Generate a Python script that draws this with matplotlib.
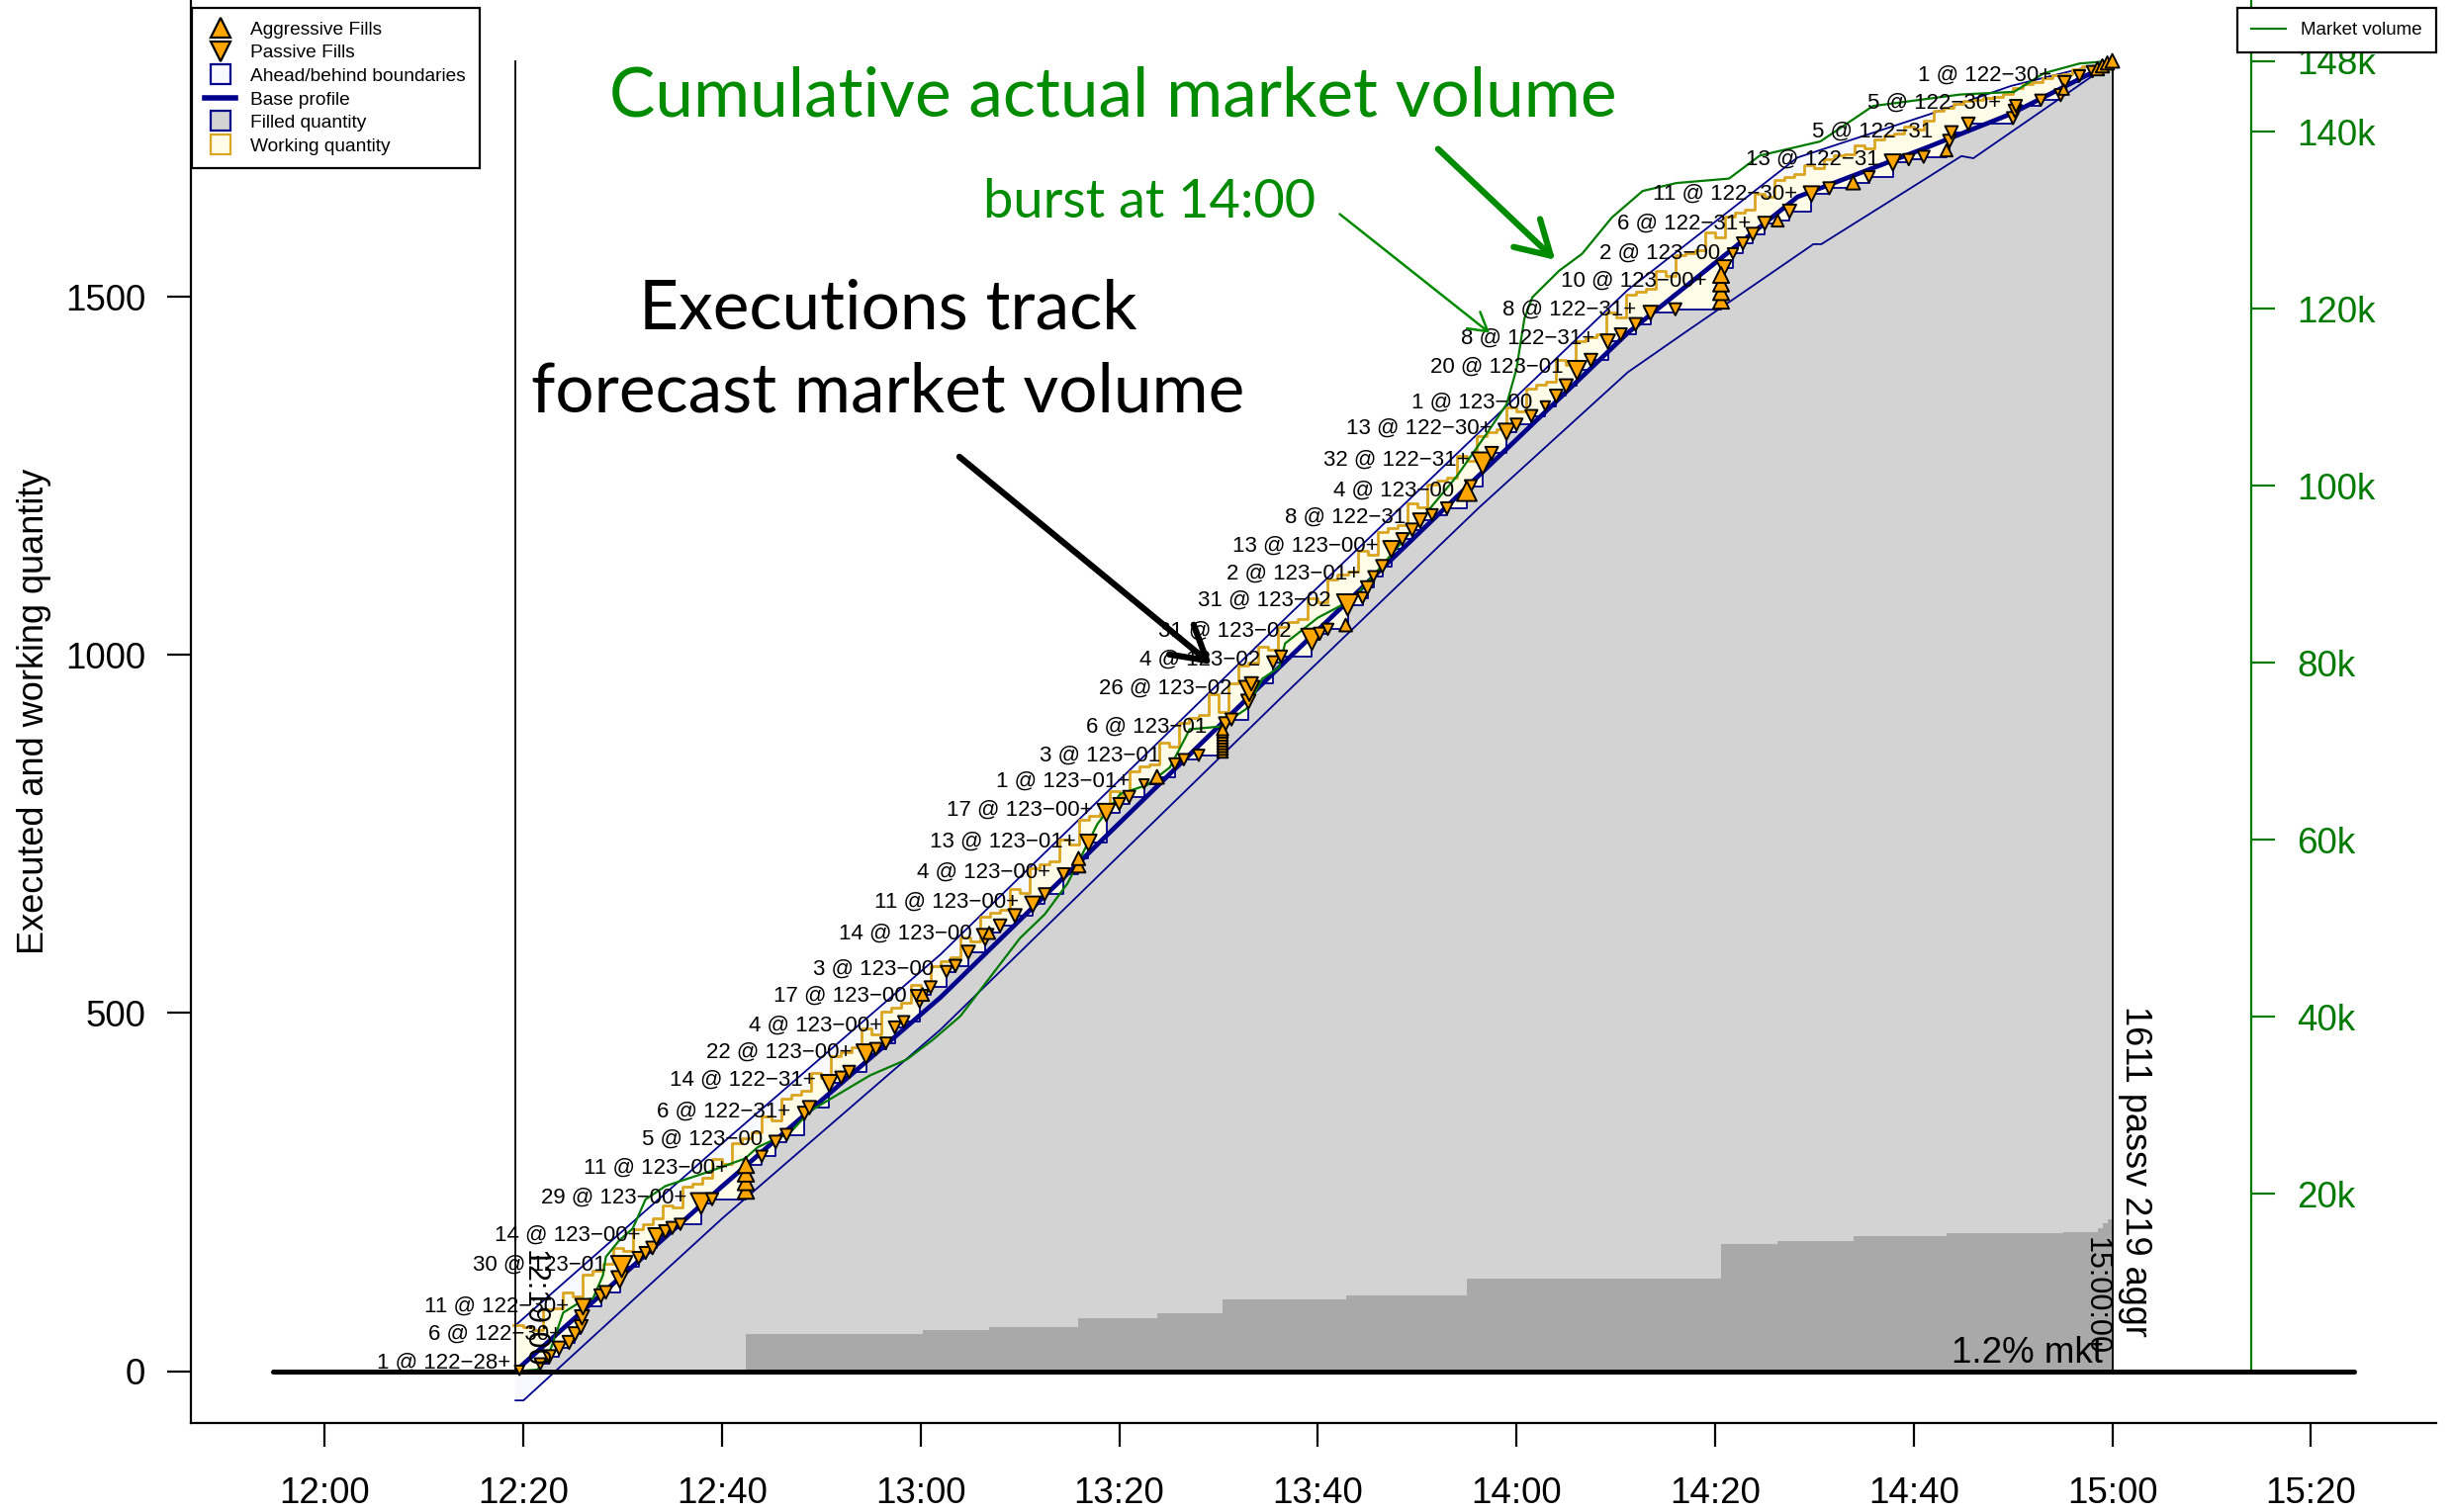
import numpy as np
import matplotlib
matplotlib.use("Agg")
import matplotlib.pyplot as plt
from matplotlib.lines import Line2D

plt.rcParams['font.family'] = ['Liberation Sans', 'DejaVu Sans']

# all times are minutes after 12:00
XTICKS = [0, 20, 40, 60, 80, 100, 120, 140, 160, 180, 200]
XTICK_LABELS = ["12:00", "12:20", "12:40", "13:00", "13:20", "13:40",
                "14:00", "14:20", "14:40", "15:00", "15:20"]
YTICKS = [0, 500, 1000, 1500]

START_T = 19.2
END_T = 180.0
EXEC_TOTAL = 1830
MKT_TOTAL = 148000

# base profile (forecast volume curve)
BASE_T = [19.6, 40, 62, 97, 116.3, 131.2, 148.3, 161.5, 169.8, 180]
BASE_V = [5, 258, 522, 995, 1252, 1450, 1640, 1710, 1756, 1828]

# ahead / behind boundaries
UPPER_T = [19.2, 40, 62, 97, 116.3, 131.2, 148.3, 161.5, 169.8, 180]
UPPER_V = [64, 318, 582, 1055, 1312, 1510, 1695, 1755, 1795, 1830]
LOWER_T = [19.2, 20.0, 40, 62, 97, 116.3, 131.2, 136.9, 149.9, 150.7,
           161.5, 164.8, 166.0, 180]
LOWER_V = [-41, -41, 213, 477, 950, 1207, 1395, 1450, 1574, 1574,
           1668, 1697, 1694, 1828]

# filled + working quantity, one value per minute from 12:19 to 15:00
WORK_T = list(range(19, 181))
WORK_TOP = [
    64, 62, 58, 86, 88, 110, 104, 135, 140, 150,
    172, 168, 198, 205, 214, 232, 228, 258, 262, 270,
    296, 290, 318, 325, 334, 356, 350, 380, 386, 392,
    416, 410, 440, 446, 452, 478, 470, 502, 508, 514,
    540, 532, 566, 572, 578, 606, 600, 634, 640, 644,
    674, 668, 702, 708, 712, 742, 736, 770, 776, 780,
    810, 804, 838, 844, 848, 878, 872, 906, 912, 916,
    946, 920, 960, 986, 990, 1012, 1008, 1040, 1046, 1050,
    1080, 1074, 1106, 1112, 1116, 1146, 1140, 1172, 1178, 1182,
    1212, 1206, 1238, 1244, 1248, 1278, 1272, 1306, 1312, 1316,
    1346, 1340, 1372, 1378, 1382, 1412, 1406, 1438, 1444, 1448,
    1478, 1472, 1504, 1508, 1512, 1536, 1530, 1558, 1562, 1566,
    1590, 1584, 1612, 1618, 1622, 1644, 1640, 1664, 1668, 1672,
    1684, 1680, 1692, 1698, 1700, 1712, 1708, 1720, 1726, 1728,
    1738, 1734, 1746, 1760, 1764, 1770, 1774, 1776, 1778, 1780,
    1784, 1792, 1798, 1800, 1806, 1810, 1812, 1818, 1822, 1824,
    1828, 1830,
]

# fills: time, cumulative filled after the fill, fill size, aggressive flag
FILL_T = [
    19.6, 21.7, 22.6, 23.6, 24.6, 25.2, 25.8, 25.9, 26.0, 27.8,
    28.3, 29.7, 29.9, 31.6, 32.3, 33.0, 33.4, 34.3, 35.0, 35.8,
    37.9, 39.0, 42.4, 42.4, 42.4, 42.4, 44.0, 45.4, 46.5, 48.3,
    48.8, 50.8, 52.0, 52.8, 54.5, 55.5, 56.5, 57.4, 58.3, 59.9,
    60.2, 61.0, 62.6, 63.5, 64.8, 66.5, 66.9, 68.0, 69.5, 71.3,
    72.5, 74.4, 75.9, 75.9, 76.9, 78.7, 80.0, 81.0, 82.5, 83.8,
    85.6, 86.5, 88.0, 90.4, 90.4, 90.4, 90.4, 90.4, 90.4, 90.4,
    90.4, 90.4, 90.7, 91.3, 93.0, 93.1, 93.3, 95.5, 96.3, 99.4,
    100.2, 101.0, 102.8, 103.0, 104.5, 105.0, 105.6, 106.5, 107.4, 108.5,
    109.5, 110.3, 111.5, 113.0, 115.0, 115.4, 116.6, 117.5, 119.0, 120.0,
    121.5, 122.9, 124.0, 125.0, 126.1, 127.5, 129.2, 130.5, 132.0, 133.5,
    136.0, 140.6, 140.6, 140.6, 140.6, 140.9, 141.8, 142.8, 143.8, 145.0,
    146.3, 147.5, 149.7, 151.5, 153.9, 155.5, 157.9, 159.5, 161.0, 163.3,
    163.6, 163.8, 165.5, 170.0, 170.2, 170.3, 172.8, 174.8, 175.1, 175.2,
    176.7, 178.0, 178.5, 179.0, 179.5, 180.0,
]
FILL_CUM = [
    1, 10, 20, 32, 40, 52, 62, 75, 90, 105,
    110, 128, 146, 158, 165, 172, 188, 195, 200, 205,
    234, 240, 252, 264, 276, 288, 300, 320, 330, 360,
    368, 402, 410, 418, 443, 450, 458, 480, 488, 520,
    526, 536, 558, 566, 585, 606, 612, 622, 636, 652,
    666, 694, 706, 716, 738, 780, 792, 802, 820, 830,
    848, 854, 860, 864, 868, 872, 876, 880, 884, 888,
    892, 896, 904, 910, 935, 950, 960, 990, 998, 1022,
    1030, 1036, 1042, 1070, 1080, 1094, 1110, 1124, 1148, 1162,
    1175, 1188, 1196, 1205, 1229, 1236, 1268, 1282, 1312, 1322,
    1334, 1348, 1362, 1376, 1398, 1412, 1438, 1448, 1462, 1478,
    1483, 1495, 1507, 1519, 1531, 1541, 1561, 1575, 1588, 1603,
    1607, 1620, 1644, 1652, 1660, 1668, 1688, 1692, 1696, 1705,
    1718, 1730, 1742, 1750, 1760, 1767, 1775, 1782, 1790, 1800,
    1809, 1815, 1819, 1823, 1827, 1830,
]
FILL_QTY = [
    1, 3, 6, 6, 6, 6, 6, 8, 11, 6,
    5, 14, 30, 4, 4, 5, 14, 5, 4, 3,
    29, 4, 13, 13, 13, 13, 3, 5, 4, 6,
    6, 14, 4, 4, 22, 4, 3, 4, 3, 17,
    5, 4, 3, 4, 6, 14, 4, 5, 6, 11,
    4, 4, 7, 6, 13, 17, 4, 4, 1, 7,
    3, 3, 3, 2, 2, 2, 2, 2, 2, 2,
    2, 3, 6, 4, 8, 26, 6, 4, 4, 31,
    4, 3, 5, 31, 3, 6, 2, 5, 13, 4,
    5, 8, 3, 4, 24, 4, 32, 5, 13, 4,
    4, 1, 5, 6, 20, 5, 8, 4, 5, 8,
    4, 12, 12, 12, 12, 10, 2, 4, 5, 6,
    4, 6, 11, 4, 7, 3, 13, 3, 4, 4,
    5, 5, 5, 4, 5, 4, 3, 4, 2, 5,
    3, 3, 6, 6, 6, 7,
]
FILL_AGGR = [
    0, 0, 0, 0, 0, 0, 0, 0, 0, 0,
    0, 0, 0, 0, 0, 0, 0, 0, 0, 0,
    0, 0, 1, 1, 1, 1, 0, 0, 0, 0,
    0, 0, 0, 0, 0, 0, 0, 0, 0, 0,
    1, 0, 0, 0, 0, 0, 1, 0, 0, 0,
    0, 0, 1, 1, 0, 0, 0, 0, 0, 1,
    0, 0, 0, 1, 1, 1, 1, 1, 1, 1,
    1, 1, 0, 0, 0, 0, 0, 0, 0, 0,
    0, 0, 1, 0, 0, 0, 0, 0, 0, 0,
    0, 0, 0, 0, 1, 0, 0, 0, 0, 0,
    0, 0, 0, 0, 0, 0, 0, 0, 0, 0,
    0, 1, 1, 1, 1, 0, 0, 0, 0, 0,
    1, 0, 0, 0, 1, 0, 0, 0, 0, 1,
    0, 0, 0, 0, 0, 0, 0, 0, 1, 0,
    0, 0, 1, 1, 1, 1,
]

# cumulative actual market volume, thousands of contracts
MKT_T = [19.4, 21.4, 22.4, 23.0, 24.0, 26.0, 27.0, 28.0, 28.3, 29.6,
         31.0, 32.3, 34.3, 38.6, 42.3, 43.6, 46.9, 48.9, 51.6, 54.9,
         58.6, 61.2, 64.0, 67.0, 70.0, 72.5, 74.8, 77.8, 80.1, 82.8,
         85.1, 87.1, 90.1, 92.8, 94.4, 96.1, 96.7, 100.0, 103.4, 106.0,
         110.0, 114.0, 117.0, 119.0, 120.0, 120.8, 121.6, 124.3, 126.6, 129.6,
         132.7, 136.1, 141.4, 144.5, 150.6, 155.9, 164.7, 170.1, 173.1, 176.7,
         180.0]
MKT_K = [0, 0.16, 1.46, 3.3, 6.6, 8.0, 8.2, 10.8, 12.9, 14.7,
         16.1, 19.4, 20.9, 22.5, 24.0, 25.3, 27.0, 29.4, 31.2, 33.4,
         35.2, 37.4, 40.1, 44.5, 48.9, 51.6, 55.1, 61.8, 65.2, 66.2,
         68.2, 72.5, 72.8, 74.8, 78.2, 79.5, 82.2, 85.1, 87.1, 90.4,
         95.7, 101.1, 105.9, 109.2, 113.2, 118.9, 121.3, 124.3, 126.2, 130.3,
         133.3, 134.2, 134.7, 137.3, 138.9, 142.9, 144.2, 144.5, 146.6, 147.7,
         148.0]

GREEN_TICKS = [20000, 40000, 60000, 80000, 100000, 120000, 140000, 148000]
GREEN_TICK_LABELS = ["20k", "40k", "60k", "80k", "100k", "120k", "140k", "148k"]

# fill labels (right edge of text)
LABEL_T = [18.7, 23.9, 24.6, 28.3, 31.8, 36.5, 40.6, 44.1, 46.9, 49.4,
           53.1, 56.1, 58.6, 61.3, 65.2, 69.9, 73.1, 75.6, 77.3, 81.1,
           84.1, 88.8, 91.3, 94.2, 97.3, 101.3, 104.3, 106.1, 108.9, 113.7,
           115.3, 117.6, 121.6, 124.7, 127.9, 132.1, 139.2, 140.5, 143.6, 148.3,
           156.5, 161.9, 168.8, 173.9]
LABEL_V = [11, 52, 90, 148, 190, 242, 284, 323, 362, 406,
           445, 483, 524, 561, 611, 655, 697, 740, 784, 823,
           860, 900, 954, 993, 1033, 1076, 1114, 1153, 1192, 1229,
           1273, 1317, 1352, 1402, 1443, 1483, 1522, 1561, 1603, 1644,
           1692, 1731, 1771, 1810]
LABEL_TXT = [
    "1 @ 122\u221228+", "6 @ 122\u221230+", "11 @ 122\u221230+", "30 @ 123\u221201",
    "14 @ 123\u221200+", "29 @ 123\u221200+", "11 @ 123\u221200+", "5 @ 123\u221200",
    "6 @ 122\u221231+", "14 @ 122\u221231+", "22 @ 123\u221200+", "4 @ 123\u221200+",
    "17 @ 123\u221200", "3 @ 123\u221200", "14 @ 123\u221200", "11 @ 123\u221200+",
    "4 @ 123\u221200+", "13 @ 123\u221201+", "17 @ 123\u221200+", "1 @ 123\u221201+",
    "3 @ 123\u221201", "6 @ 123\u221201", "26 @ 123\u221202", "4 @ 123\u221202",
    "31 @ 123\u221202", "31 @ 123\u221202", "2 @ 123\u221201+", "13 @ 123\u221200+",
    "8 @ 122\u221231", "4 @ 123\u221200", "32 @ 122\u221231+", "13 @ 122\u221230+",
    "1 @ 123\u221200", "20 @ 123\u221201", "8 @ 122\u221231+", "8 @ 122\u221231+",
    "10 @ 123\u221200+", "2 @ 123\u221200", "6 @ 122\u221231+", "11 @ 122\u221230+",
    "13 @ 122\u221231", "5 @ 122\u221231", "5 @ 122\u221230+", "1 @ 122\u221230+",
]

NAVY = "#00008B"
ORANGE = "#FFA500"
GOLD = "#DAA520"
LIGHT_GRAY = "#D3D3D3"
DARK_GRAY = "#A9A9A9"
CREAM = "#FFFDE8"
GHOST = "#F8F8FF"
GREEN = "#007A00"
GREEN_TEXT = "#008B00"
TITLE_FONT = ["Lato", "DejaVu Sans"]


def main():
    fig = plt.figure(figsize=(24.79, 15.29), dpi=100)
    ax = fig.add_axes([0.0778, 0.0591, 0.9157, 0.9409])
    xmin, xmax = -13.5, 212.6
    ax.set_xlim(xmin, xmax)
    ax.set_ylim(-72, 1915)
    for side in ("top", "right"):
        ax.spines[side].set_visible(False)
    for side in ("left", "bottom"):
        ax.spines[side].set_linewidth(1.6)

    ax.set_xticks(XTICKS)
    ax.set_xticklabels(XTICK_LABELS)
    ax.set_yticks(YTICKS)
    ax.tick_params(axis="both", labelsize=26.5, length=17, width=1.6)
    ax.tick_params(axis="x", pad=22)
    ax.tick_params(axis="y", pad=16)
    ax.set_ylabel("Executed and working quantity", fontsize=26, labelpad=10)

    # ahead/behind band
    band_t = UPPER_T + LOWER_T[::-1]
    band_v = UPPER_V + LOWER_V[::-1]
    ax.fill(band_t, band_v, facecolor=GHOST, edgecolor="none", zorder=1)

    # working quantity
    ax.fill_between(WORK_T, 0, WORK_TOP, step="post", facecolor=CREAM,
                    edgecolor="none", zorder=2)

    # filled quantity
    step_t = [START_T] + FILL_T + [END_T]
    step_v = [0] + FILL_CUM + [FILL_CUM[-1]]
    ax.fill_between(step_t, 0, step_v, step="post", facecolor=LIGHT_GRAY,
                    edgecolor="none", zorder=3)

    aggr_t = [t for t, a in zip(FILL_T, FILL_AGGR) if a]
    aggr_q = [q for q, a in zip(FILL_QTY, FILL_AGGR) if a]
    aggr_cum = list(np.cumsum(aggr_q))
    ax.fill_between(aggr_t + [END_T], 0, aggr_cum + [aggr_cum[-1]], step="post",
                    facecolor=DARK_GRAY, edgecolor="none", zorder=4)

    ax.plot(UPPER_T, UPPER_V, color=NAVY, lw=1.3, zorder=5)
    ax.plot(LOWER_T, LOWER_V, color=NAVY, lw=1.3, zorder=5)
    ax.step(WORK_T, WORK_TOP, where="post", color=GOLD, lw=2.0, zorder=5)
    ax.step(step_t, step_v, where="post", color=NAVY, lw=1.3, zorder=6)
    ax.plot(BASE_T, BASE_V, color=NAVY, lw=3.4, zorder=6)

    # market volume scaled onto the execution axis
    scale = EXEC_TOTAL / MKT_TOTAL
    ax.plot(MKT_T, np.array(MKT_K) * 1000 * scale, color=GREEN, lw=1.6, zorder=7)

    ax.plot([START_T, START_T], [0, EXEC_TOTAL], color="black", lw=1.3, zorder=7)
    ax.plot([END_T, END_T], [0, EXEC_TOTAL], color="black", lw=1.3, zorder=7)
    ax.plot([-5.2, 204.3], [0, 0], color="black", lw=3.6,
            solid_capstyle="round", zorder=7)

    # fills
    qty = np.array(FILL_QTY, dtype=float)
    sizes = (5.0 + 1.9 * np.sqrt(qty)) ** 2
    aggr = np.array(FILL_AGGR, dtype=bool)
    ft = np.array(FILL_T)
    fc = np.array(FILL_CUM)
    ax.scatter(ft[~aggr], fc[~aggr], s=sizes[~aggr], marker="v", c=ORANGE,
               edgecolors="black", linewidths=1.4, zorder=8)
    ax.scatter(ft[aggr], fc[aggr], s=sizes[aggr], marker="^", c=ORANGE,
               edgecolors="black", linewidths=1.4, zorder=8)

    for t, v, s in zip(LABEL_T, LABEL_V, LABEL_TXT):
        ax.text(t, v, s, ha="right", va="center", fontsize=16, zorder=9)

    # vertical annotations
    ax.text(START_T + 0.3, 5, "12:19:00", rotation=270, rotation_mode="anchor",
            ha="right", va="bottom", fontsize=22, zorder=9)
    ax.text(END_T - 0.2, 22, "15:00:00", rotation=270, rotation_mode="anchor",
            ha="right", va="top", fontsize=22, zorder=9)
    ax.text(END_T + 0.5, 48, "1611 passv 219 aggr", rotation=270,
            rotation_mode="anchor", ha="right", va="bottom", fontsize=26, zorder=9)
    ax.text(179.0, 12, "1.2% mkt", ha="right", va="baseline", fontsize=26.5,
            zorder=9)

    # story annotations
    ax.text(79.4, 1780, "Cumulative actual market volume", ha="center",
            va="center", fontsize=50, color=GREEN_TEXT, family=TITLE_FONT, zorder=10)
    ax.text(83.0, 1632, "burst at 14:00", ha="center", va="center",
            fontsize=39, color=GREEN_TEXT, family=TITLE_FONT, zorder=10)
    ax.text(56.7, 1483, "Executions track", ha="center", va="center",
            fontsize=50, family=TITLE_FONT, zorder=10)
    ax.text(56.7, 1366, "forecast market volume", ha="center", va="center",
            fontsize=50, family=TITLE_FONT, zorder=10)

    ax.annotate("", xy=(89.3, 987), xytext=(63.9, 1277),
                arrowprops=dict(arrowstyle="->,head_length=0.6,head_width=0.35",
                                color="black", lw=4.5, mutation_scale=40,
                                shrinkA=0, shrinkB=0), zorder=10)
    ax.annotate("", xy=(123.9, 1552), xytext=(112.1, 1707),
                arrowprops=dict(arrowstyle="->,head_length=0.6,head_width=0.35",
                                color=GREEN_TEXT, lw=4.5, mutation_scale=40,
                                shrinkA=0, shrinkB=0), zorder=10)
    ax.annotate("", xy=(117.3, 1450), xytext=(102.2, 1616),
                arrowprops=dict(arrowstyle="->,head_length=0.6,head_width=0.35",
                                color=GREEN_TEXT, lw=1.8, mutation_scale=22,
                                shrinkA=0, shrinkB=0), zorder=10)

    # green market volume axis inside the plot
    loc = (194.0 - xmin) / (xmax - xmin)
    sec = ax.secondary_yaxis(loc, functions=(lambda v: v / scale,
                                             lambda m: m * scale))
    sec.set_yticks(GREEN_TICKS)
    sec.set_yticklabels(GREEN_TICK_LABELS)
    sec.tick_params(colors=GREEN, labelsize=26.5, length=17, width=1.6, pad=16)
    sec.spines["right"].set_color(GREEN)
    sec.spines["right"].set_linewidth(1.6)
    sec.spines["right"].set_bounds(0, 1915 / scale)

    # legends
    handles = [
        Line2D([], [], ls="none", marker="^", ms=14, mfc=ORANGE, mec="black", mew=1.6),
        Line2D([], [], ls="none", marker="v", ms=14, mfc=ORANGE, mec="black", mew=1.6),
        Line2D([], [], ls="none", marker="s", ms=14, mfc=GHOST, mec=NAVY, mew=1.6),
        Line2D([], [], color=NAVY, lw=4),
        Line2D([], [], ls="none", marker="s", ms=14, mfc=LIGHT_GRAY, mec=NAVY, mew=1.6),
        Line2D([], [], ls="none", marker="s", ms=14, mfc=CREAM, mec=GOLD, mew=1.6),
    ]
    labels = ["Aggressive Fills", "Passive Fills", "Ahead/behind boundaries",
              "Base profile", "Filled quantity", "Working quantity"]
    leg = ax.legend(handles, labels, loc="upper left",
                    bbox_to_anchor=(0.0005, 0.9944), borderaxespad=0,
                    fontsize=13.8, fancybox=False, edgecolor="black",
                    framealpha=1, labelspacing=0.32, handlelength=1.6,
                    handletextpad=0.8, borderpad=0.7)
    leg.get_frame().set_linewidth(1.6)
    leg.set_zorder(20)
    ax.add_artist(leg)

    leg2 = ax.legend([Line2D([], [], color=GREEN, lw=1.6)], ["Market volume"],
                     loc="upper right", bbox_to_anchor=(1.0, 0.9944),
                     borderaxespad=0, fontsize=13.5, fancybox=False,
                     edgecolor="black", framealpha=1, handlelength=1.9,
                     handletextpad=0.8, borderpad=0.75)
    leg2.get_frame().set_linewidth(1.6)
    leg2.set_zorder(20)

    fig.savefig("out.png", dpi=100)


if __name__ == "__main__":
    main()
